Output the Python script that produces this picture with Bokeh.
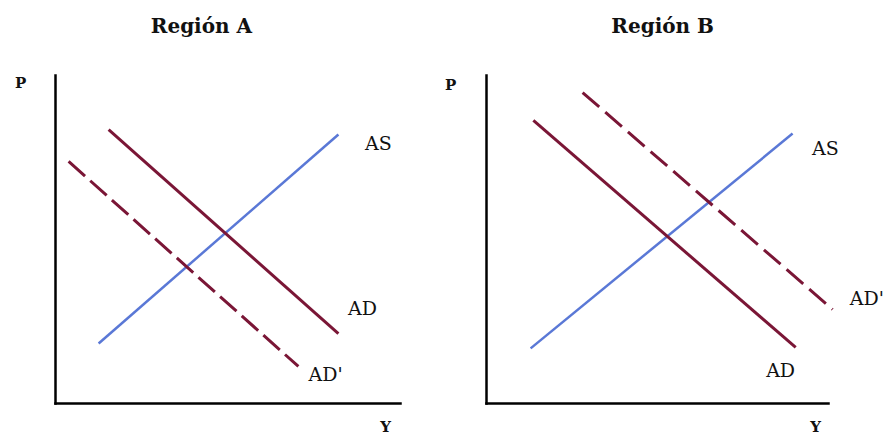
from bokeh.plotting import figure
from bokeh.layouts import row
from bokeh.models import Range1d, Label
from bokeh.embed import file_html
from bokeh.resources import INLINE

# ---- data (economic units: Y on x-axis, P on y-axis, axes run 0..10) ----
# Region A
a_as_y = [1.25, 8.20]
a_as_p = [1.83, 8.20]
a_ad_y = [1.54, 8.20]
a_ad_p = [8.35, 2.13]
a_ad2_y = [0.38, 7.04]
a_ad2_p = [7.38, 1.13]
# Region B
b_as_y = [1.29, 8.95]
b_as_p = [1.68, 8.23]
b_ad_y = [1.37, 9.04]
b_ad_p = [8.63, 1.71]
b_ad2_y = [2.81, 10.12]
b_ad2_p = [9.48, 2.87]

titles = ["Región A", "Región B"]
curve_labels = ["AS", "AD", "AD'"]
axis_labels = ["P", "Y"]
axis_extent = (0, 10)

MAROON = "#7a1636"
BLUE = "#5a78d6"
FONT = "DejaVu Serif"
INK = "#111111"


def make_panel(title, w, h, xr, yr, as_y, as_p, ad_y, ad_p, ad2_y, ad2_p,
               lab_pos, p_pos, y_pos, t_pos, dash):
    p = figure(width=w, height=h, min_border=0,
               x_range=Range1d(*xr), y_range=Range1d(*yr),
               output_backend="svg", toolbar_location=None, tools="")
    p.outline_line_color = None
    p.grid.visible = False
    p.background_fill_color = "white"
    p.border_fill_color = "white"
    for ax in (p.xaxis[0], p.yaxis[0]):
        ax.fixed_location = 0
        ax.bounds = axis_extent
        ax.axis_line_width = 2.5
        ax.axis_line_color = "black"
        ax.axis_line_cap = "square"
        ax.major_tick_line_color = None
        ax.minor_tick_line_color = None
        ax.major_tick_out = 0
        ax.major_tick_in = 0
        ax.minor_tick_out = 0
        ax.minor_tick_in = 0
        ax.major_label_standoff = 0
        ax.major_label_text_font_size = "0px"
        ax.major_label_text_color = None
    p.line(as_y, as_p, line_color=BLUE, line_width=2.5)
    p.line(ad_y, ad_p, line_color=MAROON, line_width=3)
    p.line(ad2_y, ad2_p, line_color=MAROON, line_width=3, line_dash=dash)
    for txt, (x, y) in zip(curve_labels, lab_pos):
        p.add_layout(Label(x=x, y=y, text=txt, text_align="center", text_baseline="middle",
                           text_font=FONT, text_font_size="19px", text_color=INK))
    for txt, (x, y) in zip(axis_labels, (p_pos, y_pos)):
        p.add_layout(Label(x=x, y=y, text=txt, text_align="center", text_baseline="middle",
                           text_font=FONT, text_font_size="15px", text_font_style="bold",
                           text_color=INK))
    p.add_layout(Label(x=t_pos[0], y=t_pos[1], text=title, text_align="center",
                       text_baseline="middle", text_font=FONT, text_font_size="20px",
                       text_font_style="bold", text_color=INK))
    return p


pA = make_panel(titles[0], 440, 436, (-1.594, 11.159), (-1.006, 12.287),
                a_as_y, a_as_p, a_ad_y, a_ad_p, a_ad2_y, a_ad2_p,
                [(9.36, 7.93), (8.90, 2.90), (7.83, 0.91)], (-1.01, 9.76), (9.57, -0.72),
                (4.23, 11.52), "22 7")
pB = make_panel(titles[1], 452, 436, (-1.345, 11.871), (-1.006, 12.287),
                b_as_y, b_as_p, b_ad_y, b_ad_p, b_ad2_y, b_ad2_p,
                [(9.91, 7.80), (8.60, 1.01), (11.12, 3.23)], (-1.05, 9.70), (9.62, -0.72),
                (5.15, 11.52), "22 8")

layout = row(pA, pB)
open("out.html", "w").write(file_html(layout, INLINE))
